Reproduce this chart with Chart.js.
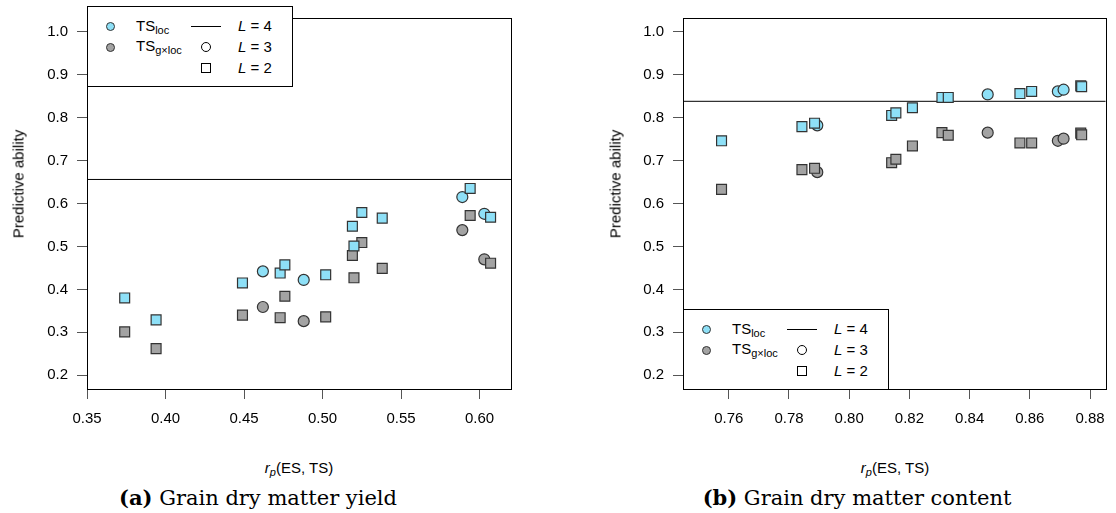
<!DOCTYPE html>
<html>
<head>
<meta charset="utf-8">
<script src="https://cdn.jsdelivr.net/npm/chart.js@4/dist/chart.umd.min.js"></script>
<style>
body { margin: 0; background: #fff; width: 1116px; height: 513px; position: relative; overflow: hidden;
       font-family: "Liberation Sans", Arial, sans-serif; color: #000; }
.wrap { position: absolute; }
.ytitle { position: absolute; font-size: 15px; transform: translate(-50%, -50%) rotate(-90deg); white-space: nowrap; }
.xtitle { position: absolute; font-size: 15px; transform: translateX(-50%); white-space: nowrap; }
.cap { position: absolute; font-family: "DejaVu Serif", serif; font-size: 21px; transform: translateX(-50%); white-space: nowrap; }
.legend { position: absolute; width: 206px; height: 81px; border: 1px solid #000; background: #fff; box-sizing: border-box; font-size: 15px; }
.legend .t { position: absolute; line-height: 16px; white-space: nowrap; }
.legend sub { font-size: 11px; vertical-align: -3px; }
.dot { position: absolute; width: 7px; height: 7px; border-radius: 50%; border: 1px solid #333; }
.ocirc { position: absolute; width: 8px; height: 8px; border-radius: 50%; border: 1px solid #000; }
.osq { position: absolute; width: 8px; height: 8px; border: 1px solid #000; }
.hl { position: absolute; height: 1px; width: 30px; background: #000; }
sub.p { font-size: 11px; vertical-align: -3px; }
</style>
</head>
<body>

<div class="wrap" style="left:0;top:0;width:520px;height:440px"><canvas id="chartA"></canvas></div>
<div class="wrap" style="left:600px;top:0;width:516px;height:440px"><canvas id="chartB"></canvas></div>

<div class="ytitle" style="left:18px;top:184px">Predictive ability</div>
<div class="ytitle" style="left:615px;top:184px">Predictive ability</div>
<div class="xtitle" style="left:299px;top:459px"><i>r<sub class="p">p</sub></i>(ES, TS)</div>
<div class="xtitle" style="left:895px;top:459px"><i>r<sub class="p">p</sub></i>(ES, TS)</div>
<div class="cap" style="left:258px;top:485px"><b>(a)</b> Grain dry matter yield</div>
<div class="cap" style="left:857px;top:485px"><b>(b)</b> Grain dry matter content</div>

<div class="legend" id="legA" style="left:87px;top:6px"></div>
<div class="legend" id="legB" style="left:683px;top:309px"></div>

<script>
// (a) grain dry matter yield
const xSqA   = [0.374, 0.394, 0.449, 0.473, 0.476, 0.502, 0.519, 0.520, 0.525, 0.538, 0.594, 0.607];
const locSqA = [0.380, 0.329, 0.415, 0.438, 0.457, 0.434, 0.547, 0.501, 0.579, 0.566, 0.635, 0.568];
const gxlSqA = [0.301, 0.262, 0.340, 0.334, 0.384, 0.336, 0.479, 0.427, 0.509, 0.449, 0.572, 0.461];
const xCiA   = [0.462, 0.488, 0.589, 0.603];
const locCiA = [0.442, 0.422, 0.615, 0.576];
const gxlCiA = [0.359, 0.326, 0.538, 0.470];
const hLineA = 0.656;
const xTicksA = [0.35, 0.40, 0.45, 0.50, 0.55, 0.60];

// (b) grain dry matter content
const xSqB   = [0.7576, 0.7843, 0.7885, 0.8141, 0.8155, 0.8210, 0.8308, 0.8329, 0.8567, 0.8606, 0.8769, 0.8772];
const locSqB = [0.746, 0.779, 0.787, 0.805, 0.811, 0.823, 0.847, 0.847, 0.856, 0.861, 0.874, 0.872];
const gxlSqB = [0.633, 0.679, 0.682, 0.695, 0.703, 0.734, 0.765, 0.759, 0.741, 0.741, 0.764, 0.760];
const xCiB   = [0.7894, 0.846, 0.8693, 0.8712];
const locCiB = [0.782, 0.854, 0.861, 0.865];
const gxlCiB = [0.673, 0.765, 0.746, 0.751];
const hLineB = 0.838;
const xTicksB = [0.76, 0.78, 0.80, 0.82, 0.84, 0.86, 0.88];

const yTicks = [0.2, 0.3, 0.4, 0.5, 0.6, 0.7, 0.8, 0.9, 1.0];

const BLUE = '#8ee0f7';
const GREY = '#a3a3a3';

function pts(xs, ys) {
    return xs.map((x, i) => ({ x: x, y: ys[i] }));
}

// box round the plot region, like R's box()
const boxPlugin = {
    id: 'box',
    afterDraw(chart) {
        const a = chart.chartArea, ctx = chart.ctx;
        ctx.save();
        ctx.strokeStyle = '#000';
        ctx.lineWidth = 1;
        ctx.strokeRect(Math.round(a.left) + 0.5, Math.round(a.top) + 0.5,
                       Math.round(a.right - a.left), Math.round(a.bottom - a.top));
        ctx.restore();
    }
};

function makeChart(id, d) {
    const marker = (label, data, style, color, order) => ({
        type: 'scatter', label: label, data: data, order: order,
        pointStyle: style, pointRadius: style === 'rect' ? 7 : 5.5,
        backgroundColor: color, borderColor: '#333', borderWidth: 1.2
    });
    return new Chart(document.getElementById(id), {
        type: 'scatter',
        data: {
            datasets: [
                {
                    type: 'line', label: 'L = 4', order: 10,
                    data: [{ x: d.xMin, y: d.hLine }, { x: d.xMax, y: d.hLine }],
                    borderColor: '#000', borderWidth: 1, pointRadius: 0
                },
                marker('TS loc L=3', pts(d.xCi, d.locCi), 'circle', BLUE, 5),
                marker('TS gxloc L=3', pts(d.xCi, d.gxlCi), 'circle', GREY, 5),
                marker('TS loc L=2', pts(d.xSq, d.locSq), 'rect', BLUE, 1),
                marker('TS gxloc L=2', pts(d.xSq, d.gxlSq), 'rect', GREY, 1)
            ]
        },
        options: {
            responsive: true,
            maintainAspectRatio: false,
            animation: false,
            events: [],
            layout: { autoPadding: false, padding: d.pad },
            plugins: { legend: { display: false }, tooltip: { enabled: false } },
            scales: {
                x: {
                    type: 'linear', min: d.xMin, max: d.xMax,
                    afterBuildTicks: s => { s.ticks = d.xTicks.map(v => ({ value: v })); },
                    afterFit: s => { s.height = 51; },
                    grid: { drawOnChartArea: false, drawTicks: true, tickLength: 10, color: '#555' },
                    border: { display: false },
                    ticks: {
                        padding: 11, color: '#000',
                        font: { family: 'Liberation Sans', size: 15 },
                        callback: v => v.toFixed(2)
                    }
                },
                y: {
                    type: 'linear', min: 0.168, max: 1.032,
                    afterBuildTicks: s => { s.ticks = yTicks.map(v => ({ value: v })); },
                    afterFit: s => { s.width = d.yWidth; },
                    grid: { drawOnChartArea: false, drawTicks: true, tickLength: 10, color: '#555' },
                    border: { display: false },
                    ticks: {
                        padding: 9, color: '#000',
                        font: { family: 'Liberation Sans', size: 15 },
                        callback: v => v.toFixed(1)
                    }
                }
            }
        },
        plugins: [boxPlugin]
    });
}

makeChart('chartA', {
    xSq: xSqA, locSq: locSqA, gxlSq: gxlSqA, xCi: xCiA, locCi: locCiA, gxlCi: gxlCiA,
    hLine: hLineA, xTicks: xTicksA, xMin: 0.35, xMax: 0.62,
    yWidth: 87, pad: { left: 0, top: 6, right: 9, bottom: 0 }
});
makeChart('chartB', {
    xSq: xSqB, locSq: locSqB, gxlSq: gxlSqB, xCi: xCiB, locCi: locCiB, gxlCi: gxlCiB,
    hLine: hLineB, xTicks: xTicksB, xMin: 0.7448, xMax: 0.8852,
    yWidth: 83, pad: { left: 0, top: 7, right: 9, bottom: 0 }
});

// legends, same layout in both panels
function fillLegend(id) {
    const el = document.getElementById(id);
    el.innerHTML =
        '<span class="dot" style="left:18px;top:15px;background:' + BLUE + '"></span>' +
        '<span class="dot" style="left:18px;top:36px;background:' + GREY + '"></span>' +
        '<span class="t" style="left:48px;top:11px">TS<sub>loc</sub></span>' +
        '<span class="t" style="left:48px;top:31px">TS<sub>g×loc</sub></span>' +
        '<span class="hl" style="left:103px;top:19px"></span>' +
        '<span class="ocirc" style="left:113px;top:35px"></span>' +
        '<span class="osq" style="left:113px;top:56px"></span>' +
        '<span class="t" style="left:150px;top:11px"><i>L</i> = 4</span>' +
        '<span class="t" style="left:150px;top:32px"><i>L</i> = 3</span>' +
        '<span class="t" style="left:150px;top:53px"><i>L</i> = 2</span>';
}
fillLegend('legA');
fillLegend('legB');
</script>
</body>
</html>
